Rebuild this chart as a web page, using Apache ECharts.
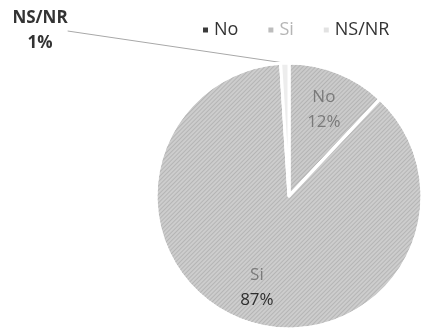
<!DOCTYPE html>
<html>
<head>
<meta charset="utf-8">
<script src="https://cdn.jsdelivr.net/npm/echarts@6/dist/echarts.min.js"></script>
<style>
  html, body { margin: 0; padding: 0; background: #fff; }
  #chart { width: 421px; height: 330px; }
</style>
</head>
<body>
<div id="chart"></div>
<script>
// Answer categories and their share of responses (%)
const categories = ['No', 'Si', 'NS/NR'];
const shares = [12, 87, 1];

const sliceColors = ['#cbcbcb', '#cdcdcd', '#ededed'];
const legendColors = ['#3a3a3a', '#bdbdbd', '#e2e2e2'];
const legendTextColors = ['#333', '#b5b5b5', '#333'];

// Fine diagonal hatching laid over the slice fill
const hatch = {
  symbol: 'rect',
  symbolSize: 1,
  dashArrayX: [1, 0],
  dashArrayY: [1, 2],
  rotation: -Math.PI / 4,
  color: 'rgba(120,120,120,0.28)'
};

const center = [289, 196];
const radius = 133;
const font = '"Open Sans", "Noto Sans", sans-serif';

const pieData = categories.map((name, i) => ({
  name,
  value: shares[i],
  itemStyle: { color: sliceColors[i], decal: i < 2 ? hatch : null }
}));

// Transparent companion ring that only carries the in-slice labels
const labelData = categories.map((name, i) => ({
  name,
  value: shares[i],
  label: { show: i < 2 }
}));

const chart = echarts.init(document.getElementById('chart'), null, { renderer: 'canvas' });
chart.setOption({
  animation: false,
  aria: { enabled: false },
  legend: {
    top: 16,
    left: 196,
    icon: 'rect',
    itemWidth: 7,
    itemHeight: 7,
    itemGap: 28,
    textStyle: { fontFamily: font, fontSize: 18, color: '#333' },
    data: categories.map((name, i) => ({
      name,
      itemStyle: { color: legendColors[i], decal: 'none' },
      textStyle: { color: legendTextColors[i] }
    }))
  },
  series: [
    {
      type: 'pie',
      center,
      radius: [0, radius],
      startAngle: 90,
      clockwise: true,
      silent: true,
      itemStyle: { borderColor: '#ffffff', borderWidth: 3 },
      label: {
        show: true,
        position: 'outside',
        formatter: p => (p.dataIndex === 2 ? p.name + '\n' + Math.round(p.percent) + '%' : ''),
        fontFamily: font,
        fontSize: 17,
        fontWeight: 'bold',
        color: '#333',
        lineHeight: 25,
        align: 'center'
      },
      labelLine: {
        show: true,
        length: 1,
        length2: 0,
        smooth: false,
        lineStyle: { color: '#a8a8a8', width: 1 }
      },
      labelLayout: p => (p.dataIndex === 2
        ? { x: 40, y: 31, align: 'center', verticalAlign: 'middle' }
        : {}),
      data: pieData
    },
    {
      type: 'pie',
      center,
      radius: [0, radius * 1.38],
      startAngle: 90,
      clockwise: true,
      silent: true,
      itemStyle: { color: 'rgba(0,0,0,0)' },
      label: {
        show: true,
        position: 'inside',
        fontFamily: font,
        fontSize: 17,
        lineHeight: 25,
        formatter: p => '{n|' + p.name + '}\n{' + (p.dataIndex === 1 ? 'vd' : 'v') + '|' + Math.round(p.percent) + '%}',
        rich: {
          n: { fontFamily: font, fontSize: 17, color: '#7a7a7a', lineHeight: 25 },
          v: { fontFamily: font, fontSize: 17, color: '#7a7a7a', lineHeight: 25 },
          vd: { fontFamily: font, fontSize: 17, color: '#2e2e2e', lineHeight: 25 }
        }
      },
      labelLayout: { dy: 2 },
      labelLine: { show: false },
      data: labelData
    }
  ]
});
</script>
</body>
</html>
